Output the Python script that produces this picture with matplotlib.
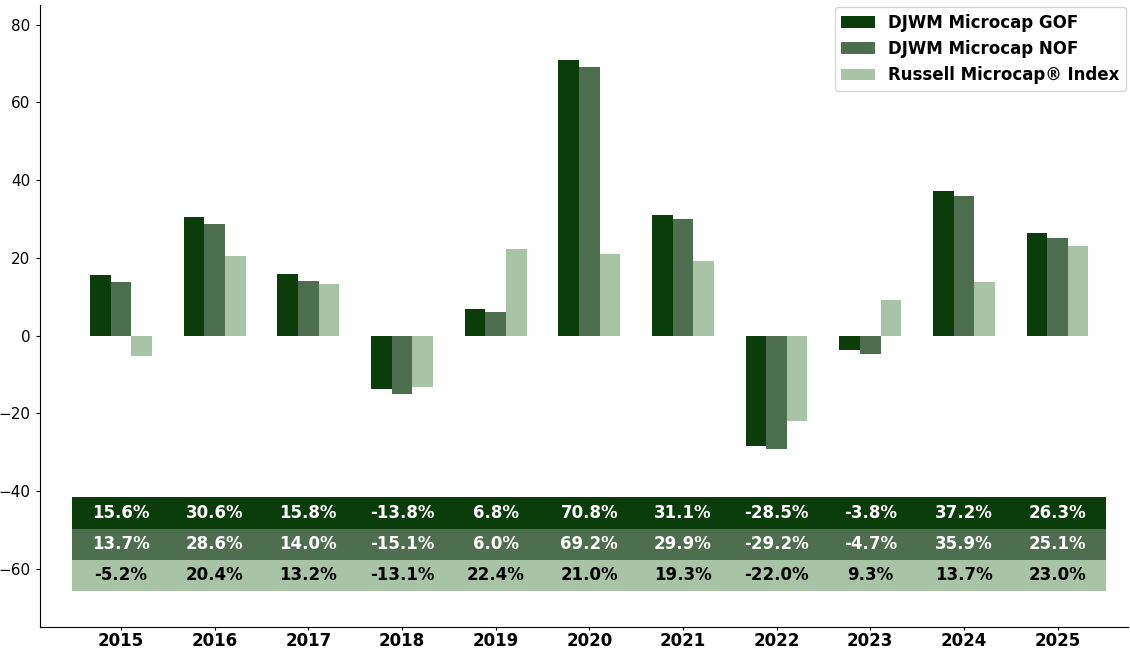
import matplotlib.pyplot as plt
import numpy as np

years = ['2015', '2016', '2017', '2018', '2019', '2020', '2021', '2022', '2023', '2024', '2025']
gof = [15.6, 30.6, 15.8, -13.8, 6.8, 70.8, 31.1, -28.5, -3.8, 37.2, 26.3]
nof = [13.7, 28.6, 14.0, -15.1, 6.0, 69.2, 29.9, -29.2, -4.7, 35.9, 25.1]
russell = [-5.2, 20.4, 13.2, -13.1, 22.4, 21.0, 19.3, -22.0, 9.3, 13.7, 23.0]
labels = ['DJWM Microcap GOF', 'DJWM Microcap NOF', 'Russell Microcap\u00ae Index']
colors = ['#0b3d0b', '#4e6f4f', '#a7c4a6']

fig = plt.figure(figsize=(11.3, 6.48), dpi=100)
ax = fig.add_axes([0.035, 0.032, 0.963, 0.96])

x = np.arange(len(years))
w = 0.22
series = [gof, nof, russell]
for i, (vals, lab, c) in enumerate(zip(series, labels, colors)):
    ax.bar(x + (i - 1) * w, vals, w, color=c, label=lab)

# table of values under the bars
row_h = 8
top = -41.6
text_cols = ['white', 'white', 'black']
for i, (vals, c) in enumerate(zip(series, colors)):
    yc = top - row_h * (i + 0.5)
    ax.barh(yc, len(years) + 0.04, height=row_h, left=-0.52, color=c)
    for xi, v in zip(x, vals):
        ax.text(xi, yc, f'{v:.1f}%', ha='center', va='center',
                color=text_cols[i], fontsize=12, fontweight='bold')

ax.set_xlim(-0.87, 10.75)
ax.set_ylim(-75, 85)
ax.set_yticks([-60, -40, -20, 0, 20, 40, 60, 80])
ax.set_xticks(x)
ax.set_xticklabels(years, fontsize=12, fontweight='bold')
ax.tick_params(axis='x', length=2.5, pad=1)
ax.tick_params(axis='y', labelsize=11, length=3)
ax.spines['top'].set_visible(False)
ax.spines['right'].set_visible(False)

ax.legend(loc='upper right', prop={'weight': 'bold', 'size': 12},
          fancybox=True, borderaxespad=0.1)

fig.savefig('out.png', dpi=100)
